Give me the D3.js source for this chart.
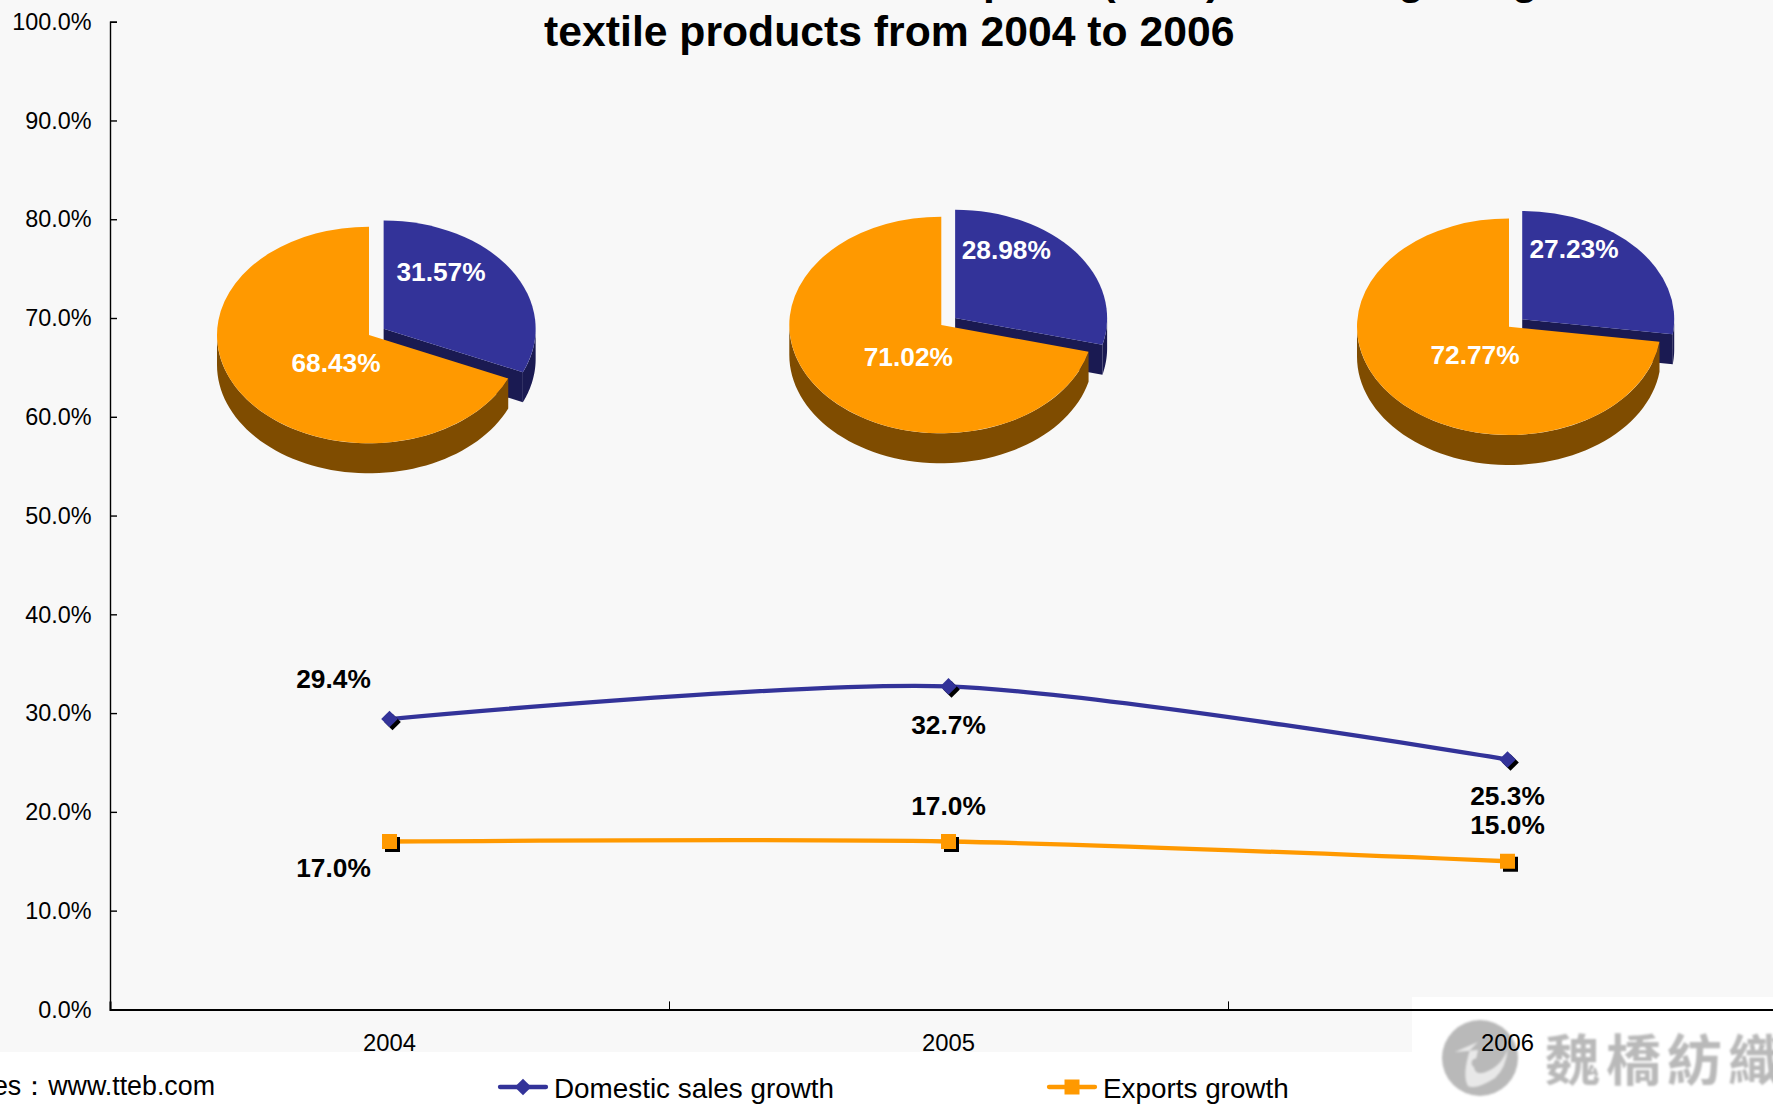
<!DOCTYPE html>
<html>
<head>
<meta charset="utf-8">
<script src="https://cdnjs.cloudflare.com/ajax/libs/d3/7.8.5/d3.min.js"></script>
<style>
  html, body { margin: 0; padding: 0; background: #fff; overflow: hidden; }
  svg { display: block; font-family: "Liberation Sans", Arial, sans-serif; }
</style>
</head>
<body>
<script>
const years = ['2004', '2005', '2006'];
const yTicks = [0, 10, 20, 30, 40, 50, 60, 70, 80, 90, 100];

const domesticGrowth = [29.4, 32.7, 25.3];
const exportsGrowth = [17.0, 17.0, 15.0];

const domesticShare = [31.57, 28.98, 27.23];
const exportsShare = [68.43, 71.02, 72.77];

const width = 1773, height = 1104;
const blue = '#333399', orange = '#ff9900';
const darkBlue = '#1a1a52', darkOrange = '#7f4c00';

// pie placement, label offsets from the pie centre
const pieCentres = [[369, 335], [941.3, 325], [1509, 326.7]];
const domesticLabelPos = [[72, -63], [65, -75], [65, -78]];
const exportsLabelPos = [[-33, 28], [-33, 32], [-34, 28]];
const rx = 152, ryRatio = 0.7125, depth = 30, explode = 17.5;

// offsets of the value labels from their points
const domesticLabelPos2 = [[-56, -40], [0, 38], [0, 36]];
const exportsLabelPos2 = [[-56, 26], [0, -35.5], [0, -36.5]];

const svg = d3.select('body').append('svg')
  .attr('width', width)
  .attr('height', height);

svg.append('rect').attr('width', width).attr('height', 1052).attr('fill', '#f8f8f8');
svg.append('rect').attr('x', 1412).attr('y', 997).attr('width', 361).attr('height', 107).attr('fill', '#fff');

// logo in the corner
const defs = svg.append('defs');
defs.append('filter').attr('id', 'soft')
  .append('feGaussianBlur').attr('stdDeviation', 0.8);

const logo = svg.append('g').attr('filter', 'url(#soft)');
logo.append('circle').attr('cx', 1480).attr('cy', 1058).attr('r', 38).attr('fill', '#b9b9b9');
logo.append('path')
  .attr('d', 'M1455 1052 L1478 1042 L1470 1050 Q1462 1075 1468 1086 Q1476 1090 1495 1078 Q1506 1068 1508 1048 Q1502 1066 1486 1072 Q1476 1076 1474 1068 L1478 1050 Z')
  .attr('fill', '#e8e8e8');
logo.append('circle').attr('cx', 1476).attr('cy', 1063).attr('r', 4.5).attr('fill', '#b9b9b9');
logo.append('text')
  .attr('x', 1545).attr('y', 1080)
  .attr('font-family', '"Noto Sans CJK TC"')
  .attr('font-weight', 700)
  .attr('font-size', 55)
  .attr('letter-spacing', 6)
  .attr('fill', '#b9b9b9')
  .text('魏橋紡織');

// axes
const y = d3.scaleLinear().domain([0, 100]).range([1009.4, 21.7]);
const x = d3.scaleBand().domain(years).range([110, 1787]);
const xEdges = d3.scaleLinear().domain([0, 3]).range([110, 1787]);

const yAxis = svg.append('g')
  .attr('transform', 'translate(110,0)')
  .call(d3.axisLeft(y).tickValues(yTicks).tickSize(-7).tickFormat(d => d.toFixed(1) + '%'));
yAxis.selectAll('text')
  .attr('x', -18.5).attr('dy', '0.33em')
  .attr('font-size', 23.4).attr('fill', '#000');
yAxis.select('.domain').attr('stroke', '#000').attr('stroke-width', 1.4);
yAxis.selectAll('line').attr('stroke', '#000').attr('stroke-width', 1.4);

const xTickAxis = svg.append('g')
  .attr('transform', 'translate(0,1009.4)')
  .call(d3.axisBottom(xEdges).tickValues([0, 1, 2]).tickSize(-8).tickFormat(''));
xTickAxis.select('.domain').attr('stroke', '#000').attr('stroke-width', 2);
xTickAxis.selectAll('line').attr('stroke', '#000').attr('stroke-width', 1);

const xAxis = svg.append('g')
  .attr('transform', 'translate(0,1009.4)')
  .call(d3.axisBottom(x).tickSize(0));
xAxis.select('.domain').remove();
xAxis.selectAll('text')
  .attr('y', 0).attr('dy', 42)
  .attr('font-size', 23.8).attr('fill', '#000');

// growth lines
const line = d3.line()
  .x((d, i) => x(years[i]) + x.bandwidth() / 2)
  .y(d => y(d))
  .curve(d3.curveCardinal.tension(0.2));

function drawSeries(values, colour, symbolPath, rotate, labelPos) {
  svg.append('path')
    .attr('d', line(values))
    .attr('fill', 'none')
    .attr('stroke', colour)
    .attr('stroke-width', 4.3);

  values.forEach((v, i) => {
    const px = x(years[i]) + x.bandwidth() / 2, py = y(v);
    svg.append('path').attr('d', symbolPath)
      .attr('transform', `translate(${px + 3},${py + 3}) rotate(${rotate})`)
      .attr('fill', '#000');
    svg.append('path').attr('d', symbolPath)
      .attr('transform', `translate(${px},${py}) rotate(${rotate})`)
      .attr('fill', colour);
    svg.append('text')
      .attr('x', px + labelPos[i][0])
      .attr('y', py + labelPos[i][1])
      .attr('dy', '0.36em')
      .attr('text-anchor', 'middle')
      .attr('font-size', 26.3)
      .attr('font-weight', 700)
      .text(v.toFixed(1) + '%');
  });
}

const diamond = d3.symbol().type(d3.symbolSquare).size(139)();
const square = d3.symbol().type(d3.symbolSquare).size(225)();
drawSeries(domesticGrowth, blue, diamond, 45, domesticLabelPos2);
drawSeries(exportsGrowth, orange, square, 0, exportsLabelPos2);

// 3d pies: flat d3.arc faces squashed into ellipses, walls built with d3.area
const pie = d3.pie().sort(null).value(d => d);
const arc = d3.arc().innerRadius(0).outerRadius(rx);
const rimX = a => rx * Math.sin(a);
const rimY = a => -rx * ryRatio * Math.cos(a);
const wall = d3.area().x(d => d.x).y0(d => d.y).y1(d => d.y + depth);

function wallPath(a0, a1) {
  const from = Math.max(a0, Math.PI / 2), to = Math.min(a1, Math.PI * 1.5);
  if (from >= to) return null;
  const steps = d3.range(0, 61).map(i => from + (to - from) * i / 60);
  return wall(steps.map(a => ({x: rimX(a), y: rimY(a)})));
}

years.forEach((year, i) => {
  const [domestic, exports] = pie([domesticShare[i], exportsShare[i]]);
  const g = svg.append('g').attr('transform', `translate(${pieCentres[i]})`);

  // the domestic slice is pulled out along its middle angle
  const mid = (domestic.startAngle + domestic.endAngle) / 2;
  const slice = g.append('g')
    .attr('transform', `translate(${explode * Math.sin(mid)},${-explode * 0.65 * Math.cos(mid)})`);
  slice.append('path')
    .attr('d', wall([{x: 0, y: 0}, {x: rimX(domestic.endAngle), y: rimY(domestic.endAngle)}]))
    .attr('fill', darkBlue);
  slice.append('path').attr('d', wallPath(domestic.startAngle, domestic.endAngle)).attr('fill', darkBlue);
  slice.append('path').attr('d', arc(domestic))
    .attr('transform', `scale(1,${ryRatio})`)
    .attr('fill', blue);

  g.append('path').attr('d', wallPath(exports.startAngle, exports.endAngle)).attr('fill', darkOrange);
  g.append('path').attr('d', arc(exports))
    .attr('transform', `scale(1,${ryRatio})`)
    .attr('fill', orange);

  [[domesticShare[i], domesticLabelPos[i]], [exportsShare[i], exportsLabelPos[i]]].forEach(([v, pos]) => {
    g.append('text')
      .attr('x', pos[0]).attr('y', pos[1])
      .attr('dy', '0.36em')
      .attr('text-anchor', 'middle')
      .attr('font-size', 26.3)
      .attr('font-weight', 700)
      .attr('fill', '#fff')
      .text(v.toFixed(2) + '%');
  });
});

// title. The first line is cut off by the picture edge, only descenders show,
// so its wording is a best guess fitted to them.
const title = svg.append('g').attr('font-size', 42.7).attr('font-weight', 700);
title.append('text')
  .attr('x', 186).attr('y', -6)
  .text('Contributions of domestic sales and exports (USD) in driving the growth');
title.append('text')
  .attr('x', 889.3).attr('y', 45.7)
  .attr('text-anchor', 'middle')
  .text('textile products from 2004 to 2006');

// source and legend
svg.append('text')
  .attr('x', 215).attr('y', 1095)
  .attr('text-anchor', 'end')
  .attr('font-size', 26.8)
  .text('Sources：www.tteb.com');

function legendItem(x0, label, colour, symbolPath, rotate) {
  const g = svg.append('g').attr('transform', `translate(${x0},1087)`);
  g.append('line').attr('x1', 2).attr('x2', 48)
    .attr('stroke', colour).attr('stroke-width', 4.3).attr('stroke-linecap', 'round');
  g.append('path').attr('d', symbolPath)
    .attr('transform', `translate(25,0) rotate(${rotate})`)
    .attr('fill', colour);
  g.append('text').attr('x', 56).attr('y', 11)
    .attr('font-size', 27.85)
    .text(label);
}

legendItem(498, 'Domestic sales growth', blue, diamond, 45);
legendItem(1047, 'Exports growth', orange, square, 0);
</script>
</body>
</html>
